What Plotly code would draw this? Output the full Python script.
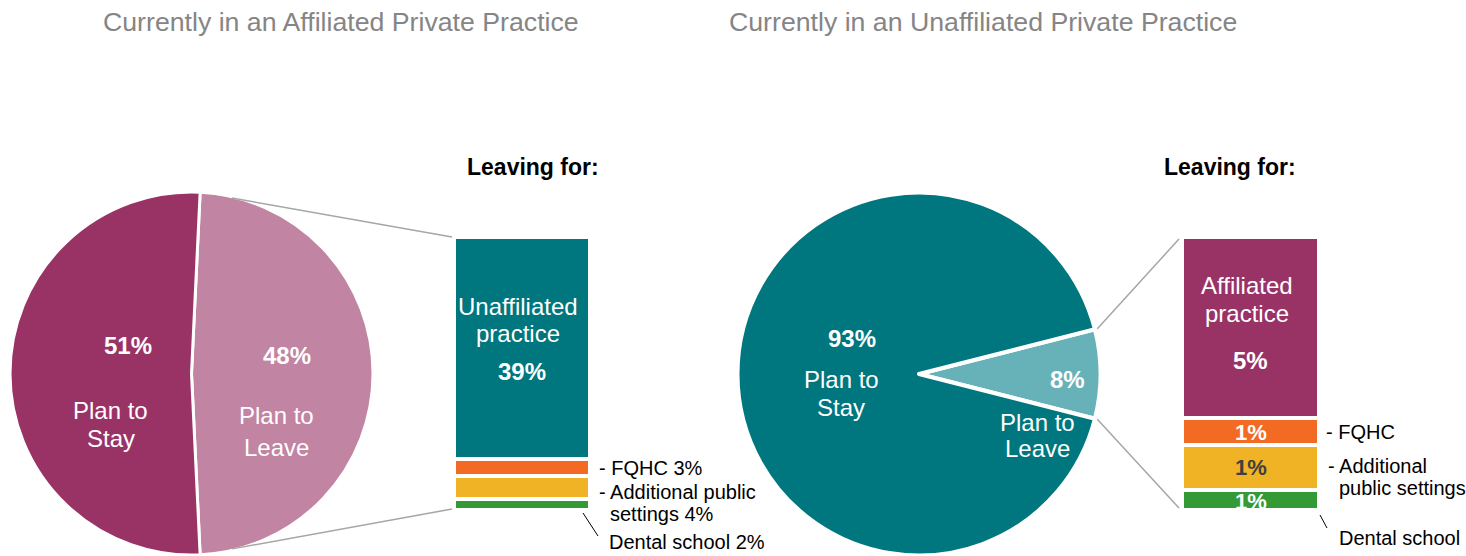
import math
import plotly.graph_objects as go

W, H = 1466, 556

# ---------------- data ----------------
titles = ["Currently in an Affiliated Private Practice",
          "Currently in an Unaffiliated Private Practice"]
subtitle = "Leaving for:"

pie_labels = ["Plan to Leave", "Plan to Stay"]
left_pie_values = [48, 51]
left_pie_text = ["48%", "51%"]
right_pie_values = [8, 93]
right_pie_text = ["8%", "93%"]

left_bar_categories = ["Dental school", "Additional public settings", "FQHC", "Unaffiliated practice"]
left_bar_values = [2, 4, 3, 39]
left_bar_text = ["2%", "4%", "3%", "39%"]

right_bar_categories = ["Dental school", "Additional public settings", "FQHC", "Affiliated practice"]
right_bar_values = [0.6, 1.3, 0.8, 5.3]
right_bar_text = ["1%", "1%", "1%", "5%"]

# ---------------- style ----------------
PLUM = "#993366"
PINK = "#C184A2"
TEAL = "#00767E"
LTEAL = "#67B2B8"
ORANGE = "#F36A24"
YELLOW = "#F0B326"
GREEN = "#339A35"
GREY = "#A6A6A6"
TITLE_GREY = "#858585"
FONT = "Liberation Sans, Arial, sans-serif"

left_bar_colors = [GREEN, YELLOW, ORANGE, TEAL]
right_bar_colors = [GREEN, YELLOW, ORANGE, PLUM]


def px(x):
    return x / W


def py(y):
    return 1 - y / H


# pie geometry (pixels)
L_CX, L_CY, R_PIE = 191.5, 373.5, 181.5
R_CX, R_CY = 919, 374
# bar geometry (pixels)
BAR_TOP, BAR_BOT = 237, 510
LB_X0, LB_X1 = 454, 590
RB_X0, RB_X1 = 1182, 1319

fig = go.Figure()

# left pie: Leave slice centred on the right side
l_total = sum(left_pie_values)
l_span = left_pie_values[0] / l_total * 360
l_rot = (180 - l_span) / 2
fig.add_trace(go.Pie(
    labels=pie_labels, values=left_pie_values, sort=False, direction="clockwise",
    rotation=l_rot, marker=dict(colors=[PINK, PLUM], line=dict(color="white", width=3)),
    textinfo="none", hoverinfo="label+percent", showlegend=False,
    domain=dict(x=[px(L_CX - R_PIE), px(L_CX + R_PIE)],
                y=[py(L_CY + R_PIE), py(L_CY - R_PIE)])))

r_total = sum(right_pie_values)
r_span = right_pie_values[0] / r_total * 360
r_rot = 90 - r_span / 2
fig.add_trace(go.Pie(
    labels=pie_labels, values=right_pie_values, sort=False, direction="clockwise",
    rotation=r_rot, marker=dict(colors=[LTEAL, TEAL], line=dict(color="white", width=4)),
    textinfo="none", hoverinfo="label+percent", showlegend=False,
    domain=dict(x=[px(R_CX - R_PIE), px(R_CX + R_PIE)],
                y=[py(R_CY + R_PIE), py(R_CY - R_PIE)])))

# stacked bars
for cats, vals, cols, xa, ya in [
        (left_bar_categories, left_bar_values, left_bar_colors, "x", "y"),
        (right_bar_categories, right_bar_values, right_bar_colors, "x2", "y2")]:
    for c, v, col in zip(cats, vals, cols):
        fig.add_trace(go.Bar(x=[0], y=[v], name=c, width=1,
                             marker=dict(color=col, line=dict(color="white", width=4)),
                             xaxis=xa, yaxis=ya, showlegend=False, hoverinfo="name+y"))

ann = []


def add_text(text, x, y, size, color="black", bold=False, xanchor="center",
             xref="paper", yref="paper", xshift=0, yshift=0):
    if bold:
        text = "<b>" + text + "</b>"
    ann.append(dict(text=text, x=x, y=y, xref=xref, yref=yref, xanchor=xanchor,
                    yanchor="middle", xshift=xshift, yshift=yshift, showarrow=False,
                    font=dict(family=FONT, size=size, color=color)))


# titles
add_text(titles[0], px(341), py(22), 26.7, TITLE_GREY)
add_text(titles[1], px(983), py(22), 26.7, TITLE_GREY)
add_text(subtitle, px(533), py(167), 23, "black", bold=True)
add_text(subtitle, px(1230), py(167), 23, "black", bold=True)

# pie labels
add_text(left_pie_text[1], px(128), py(345), 24, "white", bold=True)
add_text("Plan to", px(111), py(410), 24, "white")
add_text("Stay", px(111), py(438), 24, "white")
add_text(left_pie_text[0], px(287), py(355), 24, "white", bold=True)
add_text("Plan to", px(276), py(415), 24, "white")
add_text("Leave", px(276), py(447), 24, "white")

add_text(right_pie_text[1], px(852), py(338), 24, "white", bold=True)
add_text("Plan to", px(841), py(379), 24, "white")
add_text("Stay", px(841), py(407), 24, "white")
add_text(right_pie_text[0], px(1067), py(379), 24, "white", bold=True)
add_text("Plan to", px(1037), py(422), 24, "white")
add_text("Leave", px(1037), py(448), 24, "white")


def seg_centres(vals):
    out, acc = [], 0
    for v in vals:
        out.append(acc + v / 2)
        acc += v
    return out


lc = seg_centres(left_bar_values)
rc = seg_centres(right_bar_values)

# inside left bar
add_text("Unaffiliated", 0, lc[3], 24, "white", xref="x", yref="y", xshift=-4, yshift=41)
add_text("practice", 0, lc[3], 24, "white", xref="x", yref="y", xshift=-4, yshift=14)
add_text(left_bar_text[3], 0, lc[3], 24, "white", bold=True, xref="x", yref="y", yshift=-24)
# side labels left bar
add_text("- FQHC " + left_bar_text[2], 0.5, lc[2], 20, xanchor="left", xref="x", yref="y",
         xshift=7, yshift=-1)
add_text("- Additional public", 0.5, lc[1], 20, xanchor="left", xref="x", yref="y",
         xshift=7, yshift=-5)
add_text("settings " + left_bar_text[1], 0.5, lc[1], 20, xanchor="left", xref="x", yref="y",
         xshift=18, yshift=-27)
add_text("Dental school " + left_bar_text[0], 0.5, 0, 20, xanchor="left", xref="x", yref="y",
         xshift=17, yshift=-32)

# inside right bar
add_text("Affiliated", 0, rc[3], 24, "white", xref="x2", yref="y2", xshift=-4, yshift=42)
add_text("practice", 0, rc[3], 24, "white", xref="x2", yref="y2", xshift=-4, yshift=14)
add_text(right_bar_text[3], 0, rc[3], 24, "white", bold=True, xref="x2", yref="y2", yshift=-33)
add_text(right_bar_text[2], 0, rc[2], 22, "white", bold=True, xref="x2", yref="y2", yshift=-1)
add_text(right_bar_text[1], 0, rc[1], 22, "#404040", bold=True, xref="x2", yref="y2")
add_text(right_bar_text[0], 0, rc[0], 22, "white", bold=True, xref="x2", yref="y2", yshift=-2)
# side labels right bar
add_text("- FQHC", 0.5, rc[2], 20, xanchor="left", xref="x2", yref="y2", xshift=5)
add_text("- Additional", 0.5, rc[1], 20, xanchor="left", xref="x2", yref="y2",
         xshift=7, yshift=1)
add_text("public settings", 0.5, rc[1], 20, xanchor="left", xref="x2", yref="y2",
         xshift=18, yshift=-21)
add_text("Dental school", 0.5, 0, 20, xanchor="left", xref="x2", yref="y2",
         xshift=18, yshift=-28)

shapes = []
# connectors from pies to bars
a = math.radians(13)
Rv = 180
shapes.append(dict(type="line", xref="paper", yref="paper",
                   x0=px(L_CX + Rv * math.sin(a)), y0=py(L_CY - Rv * math.cos(a)),
                   x1=px(LB_X0 - 2), y1=py(BAR_TOP), line=dict(color=GREY, width=1.5)))
shapes.append(dict(type="line", xref="paper", yref="paper",
                   x0=px(L_CX + Rv * math.sin(a)), y0=py(L_CY + Rv * math.cos(a)),
                   x1=px(LB_X0 - 2), y1=py(BAR_BOT - 1), line=dict(color=GREY, width=1.5)))
a0 = math.radians(r_rot)
a1 = math.radians(r_rot + r_span)
Rc = 184
shapes.append(dict(type="line", xref="paper", yref="paper",
                   x0=px(R_CX + Rc * math.sin(a0)), y0=py(R_CY - Rc * math.cos(a0)),
                   x1=px(RB_X0 - 3), y1=py(BAR_TOP + 2), line=dict(color=GREY, width=1.5)))
shapes.append(dict(type="line", xref="paper", yref="paper",
                   x0=px(R_CX + Rc * math.sin(a1)), y0=py(R_CY - Rc * math.cos(a1)),
                   x1=px(RB_X0 - 3), y1=py(BAR_BOT - 2), line=dict(color=GREY, width=1.5)))
# leader lines for dental school (relative to each bar's bottom-right corner)
shapes.append(dict(type="line", xref="paper", yref="paper",
                   x0=px(LB_X1 - 7), y0=py(BAR_BOT + 3), x1=px(LB_X1 + 8), y1=py(BAR_BOT + 26),
                   line=dict(color="black", width=1)))
shapes.append(dict(type="line", xref="paper", yref="paper",
                   x0=px(RB_X1 + 1), y0=py(BAR_BOT + 5), x1=px(RB_X1 + 8), y1=py(BAR_BOT + 18),
                   line=dict(color="black", width=1)))

ax_off = dict(visible=False, showgrid=False, zeroline=False, fixedrange=True)
fig.update_layout(
    width=W, height=H, margin=dict(l=0, r=0, t=0, b=0),
    paper_bgcolor="white", plot_bgcolor="white", barmode="stack", showlegend=False,
    font=dict(family=FONT),
    xaxis=dict(domain=[px(LB_X0), px(LB_X1)], range=[-0.5, 0.5], anchor="y", **ax_off),
    yaxis=dict(domain=[py(BAR_BOT), py(BAR_TOP)], range=[0, sum(left_bar_values)],
               anchor="x", **ax_off),
    xaxis2=dict(domain=[px(RB_X0), px(RB_X1)], range=[-0.5, 0.5], anchor="y2", **ax_off),
    yaxis2=dict(domain=[py(BAR_BOT), py(BAR_TOP)], range=[0, sum(right_bar_values)],
                anchor="x2", **ax_off),
    annotations=ann, shapes=shapes,
)

fig.write_html("out.html", config={"displayModeBar": False},
               post_script="document.body.style.margin='0px';")
